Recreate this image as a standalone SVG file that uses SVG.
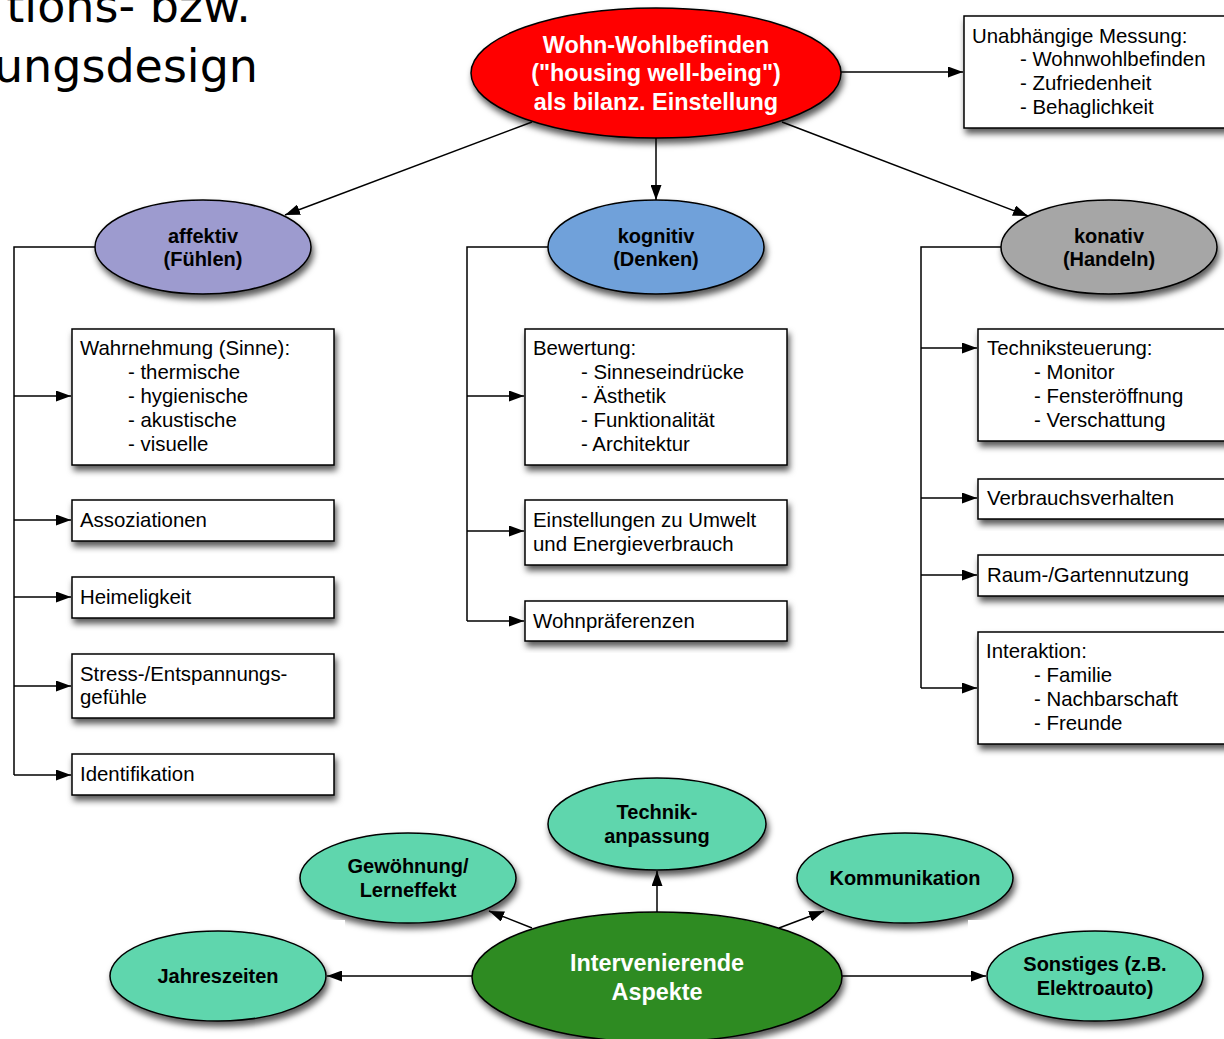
<svg xmlns="http://www.w3.org/2000/svg" width="1224" height="1039" viewBox="0 0 1224 1039">
<defs>
<filter id="sh" x="-20%" y="-20%" width="140%" height="150%">
<feDropShadow dx="2" dy="5" stdDeviation="3" flood-color="#000" flood-opacity="0.65"/>
</filter>
<marker id="arr" markerWidth="15" markerHeight="11" refX="15" refY="5.5" orient="auto" markerUnits="userSpaceOnUse">
<path d="M0,0 L15,5.5 L0,11 z" fill="#000"/>
</marker>
</defs>
<style>
.box{fill:#fff;stroke:#000;stroke-width:1.5;filter:url(#sh)}
.ell{stroke:#000;stroke-width:1.5;filter:url(#sh)}
.t{font-family:"Liberation Sans",Arial,sans-serif;font-size:20.4px;fill:#000}
.b{font-family:"Liberation Sans",Arial,sans-serif;font-size:20px;font-weight:bold;fill:#000;text-anchor:middle}
.w{font-family:"Liberation Sans",Arial,sans-serif;font-size:23.4px;font-weight:bold;fill:#fff;text-anchor:middle}
.ln{fill:none;stroke:#000;stroke-width:1.5}
.ar{fill:none;stroke:#000;stroke-width:1.5;marker-end:url(#arr)}
.title{font-family:"DejaVu Sans",Verdana,sans-serif;font-size:46px;fill:#000;text-anchor:end}
</style>
<rect width="1224" height="1039" fill="#fff"/>
<g id="title">
<text class="title" x="251" y="22">tions- bzw.</text>
<text class="title" x="258" y="82">ungsdesign</text>
</g>
<g id="connectors">
<path class="ar" d="M841,72 L963,72"/>
<path class="ar" d="M532,122 L285,215"/>
<path class="ar" d="M656,138 L656,200"/>
<path class="ar" d="M782,122 L1028,216"/>
<path class="ln" d="M95,247 L14,247 L14,775"/>
<path class="ar" d="M14,396 L71,396"/>
<path class="ar" d="M14,520 L71,520"/>
<path class="ar" d="M14,597 L71,597"/>
<path class="ar" d="M14,686 L71,686"/>
<path class="ar" d="M14,775 L71,775"/>
<path class="ln" d="M548,247 L467,247 L467,621"/>
<path class="ar" d="M467,396 L524,396"/>
<path class="ar" d="M467,531 L524,531"/>
<path class="ar" d="M467,621 L524,621"/>
<path class="ln" d="M1001,247 L921,247 L921,688"/>
<path class="ar" d="M921,348 L977,348"/>
<path class="ar" d="M921,498 L977,498"/>
<path class="ar" d="M921,575 L977,575"/>
<path class="ar" d="M921,688 L977,688"/>
<path class="ar" d="M657,912 L657,871"/>
<path class="ar" d="M532,928 L489,911"/>
<path class="ar" d="M779,928 L824,911"/>
<path class="ar" d="M472,976 L327,976"/>
<path class="ar" d="M842,976 L986,976"/>
</g>
<g id="wohlbefinden">
<ellipse class="ell" cx="656" cy="73" rx="185" ry="65" fill="#ff0000"/>
<text class="w" x="656" y="53">Wohn-Wohlbefinden</text>
<text class="w" x="656" y="81">("housing well-being")</text>
<text class="w" x="656" y="110">als bilanz. Einstellung</text>
</g>
<g id="messung">
<rect class="box" x="964" y="16" width="270" height="112"/>
<text class="t" x="972" y="43">Unabhängige Messung:</text>
<text class="t" x="1020" y="66">- Wohnwohlbefinden</text>
<text class="t" x="1020" y="90">- Zufriedenheit</text>
<text class="t" x="1020" y="114">- Behaglichkeit</text>
</g>
<g id="affektiv">
<ellipse class="ell" cx="203" cy="247" rx="108" ry="47" fill="#9d9bcf"/>
<text class="b" x="203" y="243">affektiv</text>
<text class="b" x="203" y="266">(Fühlen)</text>
</g>
<g id="kognitiv">
<ellipse class="ell" cx="656" cy="247" rx="108" ry="47" fill="#6fa1da"/>
<text class="b" x="656" y="243">kognitiv</text>
<text class="b" x="656" y="266">(Denken)</text>
</g>
<g id="konativ">
<ellipse class="ell" cx="1109" cy="247" rx="108" ry="47" fill="#a6a6a6"/>
<text class="b" x="1109" y="243">konativ</text>
<text class="b" x="1109" y="266">(Handeln)</text>
</g>
<g id="wahrnehmung">
<rect class="box" x="72" y="329" width="262" height="136"/>
<text class="t" x="80" y="355">Wahrnehmung (Sinne):</text>
<text class="t" x="128" y="379">- thermische</text>
<text class="t" x="128" y="403">- hygienische</text>
<text class="t" x="128" y="427">- akustische</text>
<text class="t" x="128" y="451">- visuelle</text>
</g>
<g id="assoziationen">
<rect class="box" x="72" y="500" width="262" height="41"/>
<text class="t" x="80" y="527">Assoziationen</text>
</g>
<g id="heimeligkeit">
<rect class="box" x="72" y="577" width="262" height="41"/>
<text class="t" x="80" y="604">Heimeligkeit</text>
</g>
<g id="stress">
<rect class="box" x="72" y="654" width="262" height="64"/>
<text class="t" x="80" y="681">Stress-/Entspannungs-</text>
<text class="t" x="80" y="704">gefühle</text>
</g>
<g id="identifikation">
<rect class="box" x="72" y="754" width="262" height="41"/>
<text class="t" x="80" y="781">Identifikation</text>
</g>
<g id="bewertung">
<rect class="box" x="525" y="329" width="262" height="136"/>
<text class="t" x="533" y="355">Bewertung:</text>
<text class="t" x="581" y="379">- Sinneseindrücke</text>
<text class="t" x="581" y="403">- Ästhetik</text>
<text class="t" x="581" y="427">- Funktionalität</text>
<text class="t" x="581" y="451">- Architektur</text>
</g>
<g id="einstellungen">
<rect class="box" x="525" y="500" width="262" height="65"/>
<text class="t" x="533" y="527">Einstellungen zu Umwelt</text>
<text class="t" x="533" y="551">und Energieverbrauch</text>
</g>
<g id="wohnpraeferenzen">
<rect class="box" x="525" y="601" width="262" height="40"/>
<text class="t" x="533" y="628">Wohnpräferenzen</text>
</g>
<g id="techniksteuerung">
<rect class="box" x="978" y="329" width="256" height="112"/>
<text class="t" x="987" y="355">Techniksteuerung:</text>
<text class="t" x="1034" y="379">- Monitor</text>
<text class="t" x="1034" y="403">- Fensteröffnung</text>
<text class="t" x="1034" y="427">- Verschattung</text>
</g>
<g id="verbrauchsverhalten">
<rect class="box" x="978" y="479" width="256" height="40"/>
<text class="t" x="987" y="505">Verbrauchsverhalten</text>
</g>
<g id="raumnutzung">
<rect class="box" x="978" y="555" width="256" height="41"/>
<text class="t" x="987" y="582">Raum-/Gartennutzung</text>
</g>
<g id="interaktion">
<rect class="box" x="978" y="632" width="256" height="112"/>
<text class="t" x="986" y="658">Interaktion:</text>
<text class="t" x="1034" y="682">- Familie</text>
<text class="t" x="1034" y="706">- Nachbarschaft</text>
<text class="t" x="1034" y="730">- Freunde</text>
</g>
<g id="technikanpassung">
<ellipse class="ell" cx="657" cy="824" rx="109" ry="46" fill="#5fd6ad"/>
<text class="b" x="657" y="819">Technik-</text>
<text class="b" x="657" y="843">anpassung</text>
</g>
<g id="gewoehnung">
<ellipse class="ell" cx="408" cy="878" rx="108" ry="45" fill="#5fd6ad"/>
<text class="b" x="408" y="873">Gewöhnung/</text>
<text class="b" x="408" y="897">Lerneffekt</text>
</g>
<g id="kommunikation">
<ellipse class="ell" cx="905" cy="878" rx="108" ry="45" fill="#5fd6ad"/>
<text class="b" x="905" y="885">Kommunikation</text>
</g>
<rect x="290" y="920" width="55" height="16" fill="#fff"/>
<rect x="968" y="920" width="60" height="16" fill="#fff"/>
<g id="jahreszeiten">
<ellipse class="ell" cx="218" cy="976" rx="108" ry="45" fill="#5fd6ad"/>
<text class="b" x="218" y="983">Jahreszeiten</text>
</g>
<g id="sonstiges">
<ellipse class="ell" cx="1095" cy="976" rx="108" ry="45" fill="#5fd6ad"/>
<text class="b" x="1095" y="971">Sonstiges (z.B.</text>
<text class="b" x="1095" y="995">Elektroauto)</text>
</g>
<g id="intervenierende">
<ellipse class="ell" cx="657" cy="977" rx="185" ry="65" fill="#2e8b22"/>
<text class="w" x="657" y="971">Intervenierende</text>
<text class="w" x="657" y="1000">Aspekte</text>
</g>
</svg>
